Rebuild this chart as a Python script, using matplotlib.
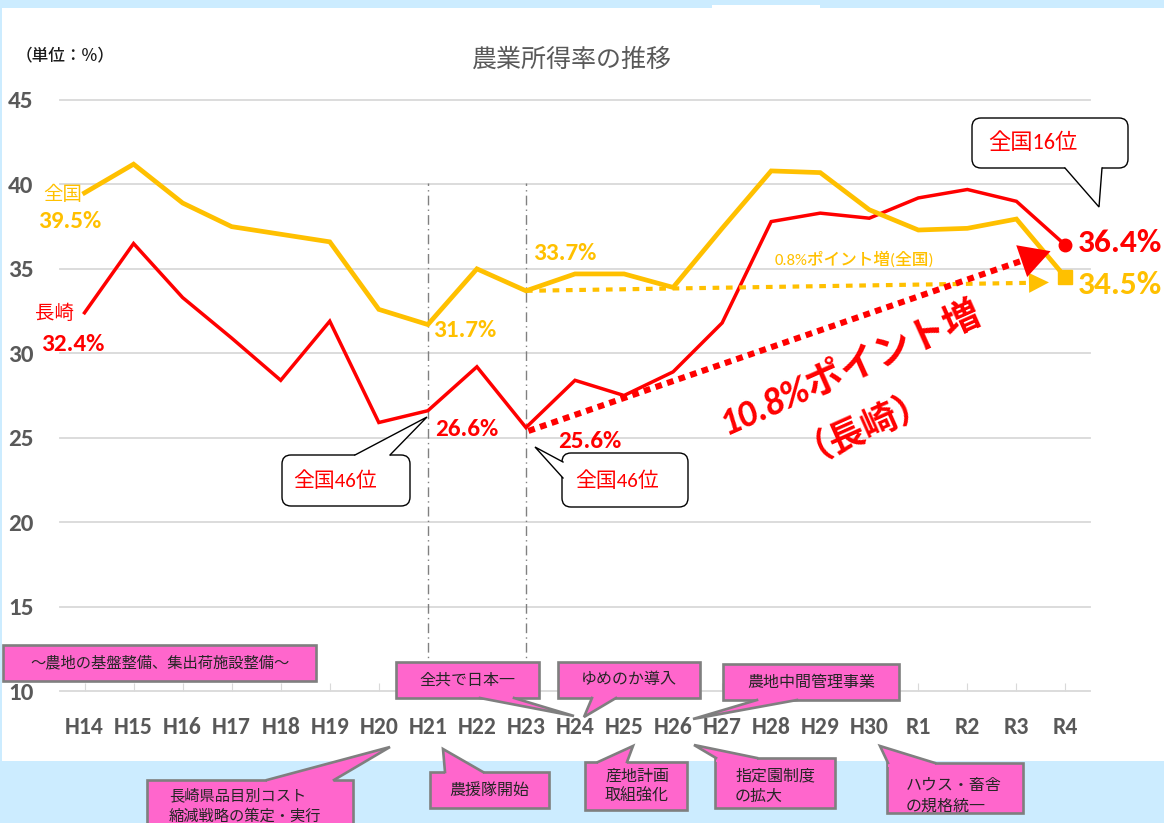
import matplotlib
matplotlib.use('Agg')
import matplotlib.pyplot as plt
from matplotlib.patches import Rectangle, FancyBboxPatch, Polygon
from matplotlib.lines import Line2D
from matplotlib.transforms import Affine2D
from matplotlib import font_manager

years = ['H14', 'H15', 'H16', 'H17', 'H18', 'H19', 'H20', 'H21', 'H22', 'H23', 'H24',
         'H25', 'H26', 'H27', 'H28', 'H29', 'H30', 'R1', 'R2', 'R3', 'R4']
nagasaki = [32.4, 36.5, 33.3, 30.9, 28.4, 31.9, 25.9, 26.6, 29.2, 25.6, 28.4,
            27.5, 28.9, 31.8, 37.8, 38.3, 38.0, 39.2, 39.7, 39.0, 36.4]
national = [39.5, 41.2, 38.9, 37.5, 37.05, 36.6, 32.6, 31.7, 35.0, 33.7, 34.7,
            34.7, 33.9, 37.4, 40.8, 40.7, 38.5, 37.3, 37.4, 37.95, 34.5]
yticks = [10, 15, 20, 25, 30, 35, 40, 45]
event_years = ['H21', 'H23']

RED = '#FF0000'
YEL = '#FFC000'
GREY = '#595959'
PINK = '#FF66CC'

plt.rcParams['font.family'] = ['Noto Sans CJK JP', 'DejaVu Sans']
names = {f.name for f in font_manager.fontManager.ttflist}
NUM = [f for f in ['Carlito', 'Asap Condensed', 'Liberation Sans'] if f in names][:1] + ['Noto Sans CJK JP']

W, H = 1164, 823
fig = plt.figure(figsize=(W / 100, H / 100), dpi=100, facecolor='#CCECFF')
# pixel coords of the reference (origin top-left)
PX = Affine2D().scale(1 / W, -1 / H).translate(0, 1) + fig.transFigure

fig.patches.append(Rectangle((2, 8), W - 2, 753, transform=PX, facecolor='white',
                             edgecolor='none', zorder=-10))
fig.patches.append(Rectangle((712, 5), 108, 5, transform=PX, facecolor='white',
                             edgecolor='none', zorder=-10))

ax = fig.add_axes([60 / W, 1 - 691 / H, 1030 / W, 591 / H])
ax.set_facecolor('none')
x = list(range(len(years)))

ax.plot(x, nagasaki, color=RED, lw=2.5, zorder=3, solid_joinstyle='miter')
ax.plot(x, national, color=YEL, lw=3.4, zorder=3, solid_joinstyle='miter')
ax.plot(x[-1], nagasaki[-1], 'o', color=RED, ms=9, zorder=4)
ax.plot(x[-1], national[-1], 's', color=YEL, ms=10, zorder=4)

# event lines
for yr in event_years:
    i = years.index(yr)
    ax.plot([i, i], [10, 40.1], color='#808080', lw=1, ls=(0, (7, 3, 1, 3)), zorder=2)

# dotted arrows from H23
i23 = years.index('H23')
yl_end = (19.72, 34.2)
ax.plot([i23, 19.45], [national[i23], 34.18], color=YEL, lw=3, ls=(0, (1.6, 1.6)), zorder=5)
ax.annotate('', xy=yl_end, xytext=(19.4, 34.18),
            arrowprops=dict(arrowstyle='-|>,head_length=0.9,head_width=0.45', color=YEL,
                            lw=0, mutation_scale=16), zorder=5)
rd_start = (i23 + 0.05, nagasaki[i23] - 0.2)
rd_end = (19.75, 36.1)
ax.plot([rd_start[0], 19.35], [rd_start[1], 35.72], color=RED, lw=4.4, ls=(0, (1.1, 0.9)), zorder=6)
ax.annotate('', xy=rd_end, xytext=(19.3, 35.65),
            arrowprops=dict(arrowstyle='-|>,head_length=1.0,head_width=0.55', color=RED,
                            lw=0, mutation_scale=22), zorder=6)

ax.set_xlim(-0.5, 20.5)
ax.set_ylim(10, 45)
ax.set_yticks(yticks)
ax.set_yticklabels([str(v) for v in yticks], family=NUM, fontweight='bold', fontsize=18, color=GREY)
ax.set_xticks(x)
ax.set_xticklabels(years, family=NUM, fontweight='bold', fontsize=17, color=GREY)
ax.tick_params(axis='y', length=0, pad=19)
ax.tick_params(axis='x', direction='in', length=6, color='#D9D9D9', pad=19)
ax.grid(axis='y', color='#D9D9D9', lw=1.3)
ax.grid(axis='x', visible=False)
for gl in ax.get_ygridlines():
    gl.set_clip_on(False)
for s in ax.spines.values():
    s.set_visible(False)
ax.set_axisbelow(True)


def text(x, y, s, size, color, family=None, weight='normal', **kw):
    fig.text(x, y, s, transform=PX, fontsize=size, color=color, family=family or plt.rcParams['font.family'],
             fontweight=weight, ha=kw.pop('ha', 'center'), va=kw.pop('va', 'center'), **kw)


# titles
text(572, 60, '農業所得率の推移', 18, GREY)
text(65, 55, '（単位：%）', 12, '#1A1A1A', weight='medium')

# value labels
text(63, 195, '全国', 14, YEL)
text(70, 222, f'{national[0]}%', 18, YEL, NUM, 'bold')
text(55, 313, '長崎', 14, RED)
text(73, 345, f'{nagasaki[0]}%', 18, RED, NUM, 'bold')
text(465, 331, f'{national[7]}%', 18, YEL, NUM, 'bold')
text(467, 430, f'{nagasaki[7]}%', 18, RED, NUM, 'bold')
text(565, 253, f'{national[9]}%', 18, YEL, NUM, 'bold')
text(590, 442, f'{nagasaki[9]}%', 18, RED, NUM, 'bold')
text(1120, 243, f'{nagasaki[-1]}%', 24, RED, NUM, 'bold')
text(1120, 285, f'{national[-1]}%', 24, YEL, NUM, 'bold')
text(854, 259, f'{national[-1] - national[9]:.1f}%ポイント増(全国)', 12, YEL, NUM, 'medium')
text(850, 367, f'{nagasaki[-1] - nagasaki[9]:.1f}%ポイント増', 27, RED, NUM, 'bold',
     rotation=24, style='italic')
text(861, 420, '（長崎）', 26, RED, None, 'bold', rotation=24)


def callout(s, box, tip=None, base=None, side='bottom', face=PINK, edge='#7F7F7F', lw=1.9,
            round_=False, tcolor='#262626', size=11.5, tpos=None, family=None, weight='normal', ha='center'):
    x0, y0, x1, y1 = box
    style = 'round,pad=0,rounding_size=9' if round_ else 'square,pad=0'
    fig.patches.append(FancyBboxPatch((x0, y0), x1 - x0, y1 - y0, boxstyle=style, transform=PX,
                                      facecolor=face, edgecolor=edge, lw=lw, zorder=20))
    if tip is not None:
        d = {'top': (0, 4), 'bottom': (0, -4), 'left': (4, 0), 'right': (-4, 0)}[side]
        b0, b1 = base
        poly = [(b0[0] + d[0], b0[1] + d[1]), b0, tip, b1, (b1[0] + d[0], b1[1] + d[1])]
        fig.patches.append(Polygon(poly, closed=True, transform=PX, facecolor=face,
                                   edgecolor='none', zorder=21))
        fig.lines.append(Line2D([b0[0], tip[0], b1[0]], [b0[1], tip[1], b1[1]], transform=PX,
                                color=edge, lw=lw, zorder=22, solid_joinstyle='miter'))
    if tpos is None:
        tpos = ((x0 + x1) / 2, (y0 + y1) / 2)
    fig.text(tpos[0], tpos[1], s, transform=PX, fontsize=size, color=tcolor, ha=ha, va='center',
             family=family or plt.rcParams['font.family'], fontweight=weight, zorder=23,
             linespacing=1.25)


WH = dict(face='white', edge='black', lw=1.0, round_=True, tcolor=RED, family=NUM)
callout('全国46位', (282, 455, 410, 506), (427, 417), ((355, 455), (390, 455)), 'top',
        size=15, tpos=(335, 480), **WH)
callout('全国46位', (562, 453, 688, 507), (535, 447), ((563, 462), (563, 478)), 'left',
        size=15, tpos=(617, 480), **WH)
callout('全国16位', (972, 118, 1128, 168), (1099, 207), ((1065, 168), (1102, 168)), 'bottom',
        size=16, tpos=(1033, 143), **WH)

callout('～農地の基盤整備、集出荷施設整備～', (3, 645, 316, 681), size=11)
callout('全共で日本一', (396, 662, 539, 698), (574, 716), ((480, 698), (514, 698)), 'bottom')
callout('ゆめのか導入', (558, 662, 700, 698), (584, 717), ((592, 698), (616, 698)), 'bottom')
callout('農地中間管理事業', (723, 664, 899, 700), (693, 719), ((757, 700), (797, 700)), 'bottom')
callout('長崎県品目別コスト\n縮減戦略の策定・実行', (147, 780, 353, 835), (390, 747),
        ((267, 780), (334, 780)), 'top', tpos=(169, 806), ha='left', size=11)
callout('農援隊開始', (430, 772, 549, 808), (443, 749), ((445, 772), (483, 772)), 'top')
callout('産地計画\n取組強化', (585, 762, 687, 810), (633, 746), ((598, 762), (627, 762)), 'top',
        tpos=(605, 786), ha='left')
callout('指定園制度\nの拡大', (715, 758, 835, 808), (694, 745), ((716, 758), (757, 758)), 'top',
        tpos=(735, 786), ha='left')
callout('ハウス・畜舎\nの規格統一', (887, 763, 1023, 813), (880, 746), ((888, 763), (935, 763)), 'top',
        tpos=(906, 796), ha='left')

fig.savefig('out.png', dpi=100, facecolor=fig.get_facecolor())
